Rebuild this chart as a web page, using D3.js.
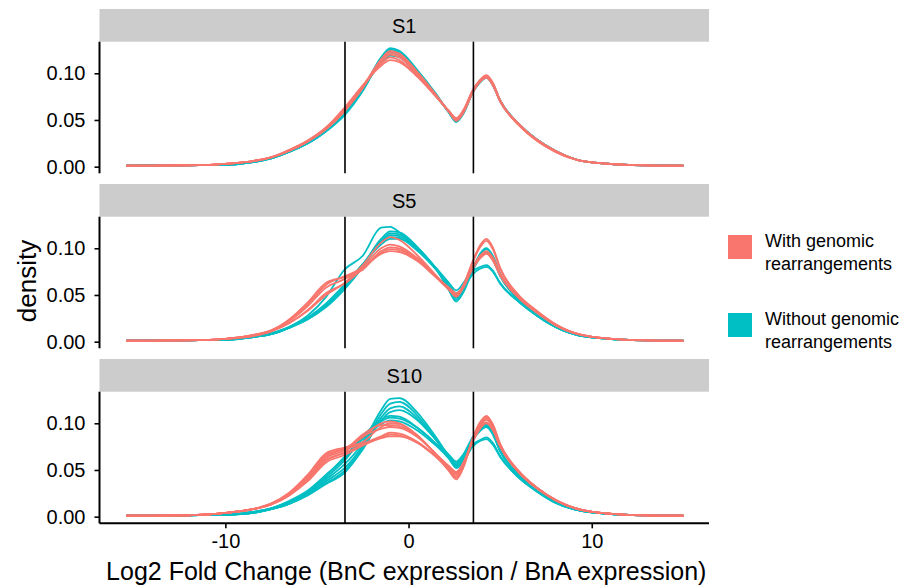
<!DOCTYPE html>
<html>
<head>
<meta charset="utf-8">
<script src="https://cdn.jsdelivr.net/npm/d3@7"></script>
<style>
  body { margin: 0; background: #fff; }
  text { font-family: "Liberation Sans", Arial, sans-serif; fill: #000; }
</style>
</head>
<body>
<div id="chart"></div>
<script>
const W = 905, H = 588;

// shared x grid (log2 fold change) the density values are read on
const xGrid = [-15.4, -12, -10, -8.5, -7.5, -6.5, -5.5, -4.5, -3.5, -2.5, -1.5, -1, -0.5,
               0.5, 1.5, 2.2, 2.6, 3.0, 3.5, 3.9, 4.25, 4.6, 5, 6, 7, 8, 9.5, 12, 15];

const panels = ["S1", "S5", "S10"];
const groups = ["With genomic rearrangements", "Without genomic rearrangements"];
const vlines = [-3.47, 3.54];
const xTicks = [-10, 0, 10];
const yTicks = [0, 0.05, 0.10];

// S1
const s1With = [
  [0.001,0.0015,0.003,0.006,0.010,0.018,0.028,0.042,0.062,0.086,0.110,0.117,0.114,0.097,0.075,0.059,0.051,0.060,0.081,0.092,0.097,0.089,0.071,0.046,0.029,0.017,0.006,0.002,0.001],
  [0.001,0.0015,0.003,0.006,0.010,0.018,0.028,0.042,0.063,0.087,0.108,0.114,0.112,0.096,0.075,0.060,0.052,0.061,0.082,0.093,0.098,0.090,0.071,0.046,0.029,0.017,0.006,0.002,0.001],
  [0.001,0.0015,0.003,0.006,0.010,0.017,0.027,0.041,0.060,0.085,0.112,0.120,0.117,0.099,0.076,0.059,0.050,0.059,0.080,0.091,0.096,0.088,0.070,0.045,0.028,0.017,0.006,0.002,0.001],
  [0.001,0.0015,0.003,0.006,0.010,0.017,0.027,0.041,0.061,0.086,0.114,0.122,0.119,0.100,0.076,0.059,0.050,0.059,0.080,0.091,0.095,0.087,0.070,0.045,0.028,0.016,0.006,0.002,0.001],
  [0.001,0.0015,0.003,0.006,0.010,0.017,0.027,0.040,0.059,0.084,0.115,0.124,0.121,0.101,0.077,0.059,0.049,0.058,0.079,0.091,0.096,0.088,0.070,0.045,0.028,0.016,0.006,0.002,0.001]
];
const s1Without = [
  [0.001,0.0015,0.002,0.005,0.009,0.016,0.025,0.038,0.056,0.082,0.114,0.124,0.121,0.101,0.077,0.059,0.049,0.058,0.080,0.091,0.096,0.088,0.071,0.046,0.029,0.017,0.006,0.002,0.001],
  [0.001,0.0015,0.002,0.005,0.009,0.016,0.025,0.038,0.055,0.081,0.116,0.126,0.123,0.102,0.077,0.058,0.048,0.057,0.079,0.090,0.095,0.087,0.070,0.046,0.029,0.017,0.006,0.002,0.001],
  [0.001,0.0015,0.002,0.005,0.009,0.016,0.025,0.039,0.057,0.083,0.113,0.122,0.119,0.100,0.076,0.058,0.049,0.058,0.080,0.091,0.096,0.088,0.071,0.046,0.029,0.017,0.006,0.002,0.001],
  [0.001,0.0015,0.002,0.005,0.009,0.016,0.026,0.039,0.058,0.084,0.111,0.119,0.117,0.099,0.076,0.059,0.050,0.059,0.081,0.092,0.097,0.089,0.071,0.046,0.029,0.017,0.006,0.002,0.001],
  [0.001,0.0015,0.002,0.005,0.009,0.016,0.025,0.038,0.057,0.083,0.117,0.127,0.124,0.103,0.078,0.058,0.048,0.058,0.080,0.091,0.096,0.088,0.070,0.046,0.029,0.017,0.006,0.002,0.001]
];

// S5
const s5With = [
  [0.001,0.0015,0.003,0.007,0.012,0.024,0.042,0.063,0.069,0.077,0.097,0.101,0.100,0.088,0.070,0.056,0.049,0.060,0.085,0.101,0.108,0.099,0.078,0.050,0.033,0.019,0.007,0.002,0.001],
  [0.001,0.0015,0.003,0.007,0.012,0.023,0.040,0.061,0.070,0.079,0.095,0.099,0.098,0.087,0.069,0.056,0.050,0.061,0.086,0.103,0.110,0.101,0.079,0.050,0.033,0.019,0.007,0.002,0.001],
  [0.001,0.0015,0.003,0.007,0.012,0.022,0.038,0.058,0.067,0.080,0.100,0.104,0.102,0.089,0.070,0.056,0.048,0.058,0.080,0.092,0.097,0.090,0.073,0.048,0.032,0.018,0.007,0.002,0.001],
  [0.001,0.0015,0.003,0.006,0.011,0.020,0.033,0.050,0.063,0.082,0.106,0.112,0.109,0.092,0.071,0.057,0.050,0.059,0.079,0.090,0.095,0.088,0.071,0.047,0.031,0.018,0.007,0.002,0.001],
  [0.001,0.0015,0.003,0.006,0.011,0.020,0.034,0.052,0.062,0.078,0.094,0.097,0.096,0.086,0.069,0.058,0.052,0.060,0.078,0.089,0.094,0.087,0.071,0.048,0.032,0.018,0.007,0.002,0.001]
];
const s5Without = [
  [0.001,0.0015,0.002,0.005,0.009,0.016,0.028,0.048,0.077,0.092,0.122,0.123,0.117,0.098,0.077,0.059,0.050,0.058,0.075,0.080,0.082,0.076,0.063,0.043,0.028,0.016,0.006,0.002,0.001],
  [0.001,0.0015,0.002,0.005,0.008,0.015,0.024,0.038,0.058,0.082,0.110,0.118,0.117,0.101,0.078,0.058,0.047,0.056,0.078,0.094,0.100,0.092,0.073,0.046,0.029,0.016,0.006,0.002,0.001],
  [0.001,0.0015,0.002,0.005,0.008,0.015,0.024,0.037,0.056,0.080,0.108,0.116,0.115,0.100,0.078,0.057,0.045,0.055,0.077,0.092,0.099,0.091,0.072,0.045,0.028,0.016,0.006,0.002,0.001],
  [0.001,0.0015,0.002,0.005,0.008,0.015,0.025,0.039,0.059,0.082,0.107,0.114,0.113,0.099,0.078,0.055,0.043,0.053,0.076,0.090,0.096,0.088,0.071,0.045,0.028,0.016,0.006,0.002,0.001],
  [0.001,0.0015,0.002,0.005,0.008,0.015,0.025,0.039,0.060,0.083,0.106,0.112,0.111,0.098,0.079,0.063,0.055,0.063,0.080,0.091,0.095,0.088,0.070,0.045,0.028,0.016,0.006,0.002,0.001],
  [0.001,0.0015,0.002,0.005,0.009,0.016,0.026,0.041,0.061,0.083,0.104,0.110,0.110,0.097,0.078,0.061,0.052,0.058,0.072,0.078,0.080,0.075,0.062,0.043,0.028,0.016,0.006,0.002,0.001]
];

// S10
const s10With = [
  [0.001,0.0015,0.004,0.008,0.014,0.025,0.043,0.066,0.073,0.085,0.100,0.102,0.100,0.087,0.066,0.050,0.042,0.054,0.083,0.100,0.107,0.098,0.077,0.049,0.031,0.018,0.007,0.002,0.001],
  [0.001,0.0015,0.004,0.008,0.014,0.026,0.045,0.068,0.074,0.080,0.096,0.100,0.099,0.086,0.066,0.049,0.040,0.053,0.084,0.101,0.108,0.099,0.078,0.049,0.031,0.018,0.007,0.002,0.001],
  [0.001,0.0015,0.004,0.008,0.013,0.024,0.041,0.063,0.071,0.088,0.098,0.098,0.097,0.086,0.067,0.053,0.045,0.056,0.082,0.098,0.105,0.096,0.076,0.048,0.031,0.018,0.007,0.002,0.001],
  [0.001,0.0015,0.004,0.008,0.013,0.023,0.040,0.061,0.069,0.086,0.094,0.096,0.095,0.085,0.067,0.054,0.047,0.058,0.082,0.097,0.104,0.096,0.076,0.048,0.030,0.018,0.007,0.002,0.001],
  [0.001,0.0015,0.004,0.008,0.014,0.025,0.042,0.064,0.072,0.078,0.086,0.090,0.089,0.080,0.064,0.050,0.043,0.055,0.082,0.097,0.104,0.096,0.077,0.049,0.031,0.018,0.007,0.002,0.001],
  [0.001,0.0015,0.004,0.008,0.013,0.024,0.040,0.060,0.068,0.077,0.085,0.088,0.087,0.079,0.064,0.052,0.046,0.057,0.081,0.095,0.101,0.093,0.075,0.048,0.031,0.018,0.007,0.002,0.001],
  [0.001,0.0015,0.004,0.008,0.013,0.023,0.038,0.058,0.066,0.076,0.084,0.086,0.086,0.079,0.065,0.054,0.048,0.058,0.080,0.094,0.100,0.093,0.075,0.048,0.031,0.018,0.007,0.002,0.001]
];
const s10Without = [
  [0.001,0.0015,0.002,0.004,0.008,0.014,0.025,0.040,0.056,0.079,0.114,0.126,0.127,0.111,0.085,0.064,0.052,0.059,0.075,0.081,0.083,0.077,0.064,0.042,0.027,0.015,0.006,0.002,0.001],
  [0.001,0.0015,0.002,0.004,0.008,0.014,0.024,0.038,0.052,0.076,0.110,0.121,0.123,0.108,0.083,0.065,0.055,0.062,0.077,0.082,0.085,0.079,0.065,0.042,0.027,0.015,0.006,0.002,0.001],
  [0.001,0.0015,0.002,0.004,0.008,0.014,0.023,0.036,0.049,0.074,0.106,0.116,0.118,0.105,0.082,0.064,0.054,0.062,0.082,0.092,0.097,0.089,0.070,0.044,0.028,0.016,0.006,0.002,0.001],
  [0.001,0.0015,0.002,0.004,0.008,0.014,0.023,0.035,0.047,0.072,0.103,0.112,0.114,0.103,0.082,0.066,0.057,0.065,0.084,0.094,0.099,0.091,0.071,0.044,0.028,0.016,0.006,0.002,0.001],
  [0.001,0.0015,0.002,0.005,0.009,0.016,0.026,0.042,0.060,0.084,0.102,0.106,0.105,0.095,0.078,0.066,0.059,0.067,0.085,0.094,0.098,0.090,0.071,0.045,0.028,0.016,0.006,0.002,0.001],
  [0.001,0.0015,0.002,0.005,0.009,0.017,0.028,0.045,0.062,0.083,0.099,0.103,0.102,0.092,0.076,0.063,0.056,0.064,0.083,0.095,0.100,0.092,0.072,0.045,0.028,0.016,0.006,0.002,0.001],
  [0.001,0.0015,0.002,0.005,0.009,0.016,0.027,0.044,0.064,0.086,0.104,0.108,0.107,0.095,0.078,0.062,0.053,0.062,0.083,0.092,0.096,0.088,0.070,0.045,0.028,0.016,0.006,0.002,0.001]
];

const curves = {
  "S1":  {with: s1With,  without: s1Without},
  "S5":  {with: s5With,  without: s5Without},
  "S10": {with: s10With, without: s10Without}
};

const color = d3.scaleOrdinal().domain(groups).range(["#F8766D", "#00BFC4"]);

const left = 99.5, right = 709;
const stripH = 32.7, panelH = 131.6, gap = 10.7, top0 = 9;

const x = d3.scaleLinear().domain([-16.87, 16.4]).range([left, right]);

const svg = d3.select("#chart").append("svg")
  .attr("width", W).attr("height", H);

const line = d3.line()
  .x((d, i) => x(xGrid[i]))
  .curve(d3.curveMonotoneX);

panels.forEach((p, k) => {
  const stripTop = top0 + k * (stripH + panelH + gap);
  const pTop = stripTop + stripH, pBot = pTop + panelH;
  const y = d3.scaleLinear().domain([-0.0071, 0.1338]).range([pBot, pTop]);
  line.y(d => y(d));

  // strip
  svg.append("rect")
    .attr("x", left).attr("y", stripTop)
    .attr("width", right - left).attr("height", stripH)
    .attr("fill", "#cccccc");
  svg.append("text")
    .attr("x", (left + right) / 2).attr("y", stripTop + stripH / 2)
    .attr("dy", "0.36em").attr("text-anchor", "middle")
    .style("font-size", "20px")
    .text(p);

  const g = svg.append("g");
  // teal first, red on top
  g.selectAll("path.without").data(curves[p].without).join("path")
    .attr("class", "without")
    .attr("d", line)
    .attr("fill", "none").attr("stroke", color(groups[1])).attr("stroke-width", 1.8);
  g.selectAll("path.with").data(curves[p].with).join("path")
    .attr("class", "with")
    .attr("d", line)
    .attr("fill", "none").attr("stroke", color(groups[0])).attr("stroke-width", 1.8);

  g.selectAll("line.vl").data(vlines).join("line")
    .attr("class", "vl")
    .attr("x1", d => x(d)).attr("x2", d => x(d))
    .attr("y1", pTop).attr("y2", pBot)
    .attr("stroke", "#000").attr("stroke-width", 1.6);

  // y axis
  const ya = svg.append("g")
    .attr("transform", "translate(" + left + ",0)")
    .call(d3.axisLeft(y).tickValues(yTicks).tickFormat(d3.format(".2f")).tickSize(5).tickPadding(9));
  ya.select(".domain").attr("d", "M0," + pTop + "V" + pBot).attr("stroke-width", 2);
  ya.selectAll(".tick line").attr("stroke-width", 1.6);
  ya.selectAll("text").style("font-size", "20px").attr("font-family", null);

  if (k === panels.length - 1) {
    const xa = svg.append("g")
      .attr("transform", "translate(0," + pBot + ")")
      .call(d3.axisBottom(x).tickValues(xTicks).tickFormat(d => String(d)).tickSize(5).tickPadding(6));
    xa.select(".domain").attr("d", "M" + left + ",0H" + right).attr("stroke-width", 2);
    xa.selectAll(".tick line").attr("stroke-width", 1.6);
    xa.selectAll("text").style("font-size", "20px").attr("font-family", null);
  }
});

// axis titles
svg.append("text")
  .attr("x", (left + right) / 2 + 2).attr("y", 571)
  .attr("dy", "0.36em").attr("text-anchor", "middle")
  .style("font-size", "25px")
  .text("Log2 Fold Change (BnC expression / BnA expression)");

svg.append("text")
  .attr("transform", "translate(27,281) rotate(-90)")
  .attr("dy", "0.36em").attr("text-anchor", "middle")
  .style("font-size", "26px")
  .text("density");

// legend
const legendLines = [["With genomic", "rearrangements"], ["Without genomic", "rearrangements"]];
const leg = svg.append("g").attr("transform", "translate(728,235)");
groups.forEach((gname, i) => {
  const gy = i * 78;
  leg.append("rect")
    .attr("x", 0).attr("y", gy)
    .attr("width", 24).attr("height", 24)
    .attr("fill", color(gname));
  legendLines[i].forEach((t, j) => {
    leg.append("text")
      .attr("x", 37).attr("y", gy + 6 + j * 23)
      .attr("dy", "0.36em")
      .style("font-size", "18px")
      .text(t);
  });
});
</script>
</body>
</html>
